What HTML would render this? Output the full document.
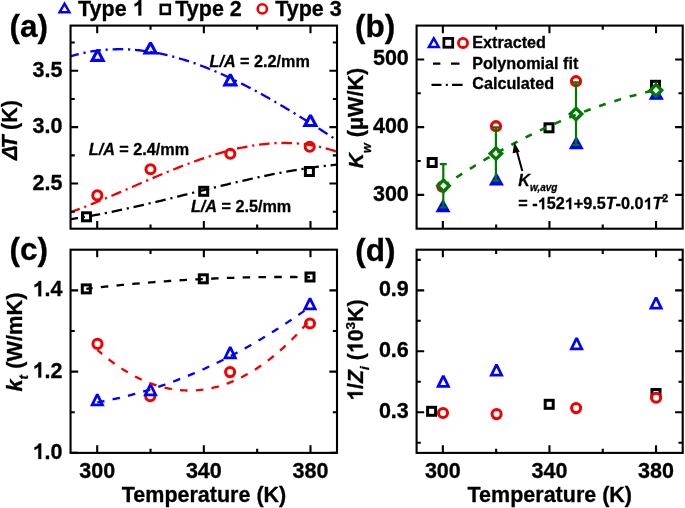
<!DOCTYPE html>
<html><head><meta charset="utf-8"><style>
html,body{margin:0;padding:0;background:#fff;overflow:hidden;}
svg{display:block;filter:blur(0.3px);}
text{stroke:#000;stroke-width:0.3px;stroke-linejoin:round;}
.o1{fill:transparent;stroke:none;}
</style></head><body>
<svg width="685" height="508" viewBox="0 0 685 508" font-family='"Liberation Sans", sans-serif'>
<defs><clipPath id="ca"><rect x="70.55" y="25.6" width="266.45" height="203.1"/></clipPath></defs>
<rect width="685" height="508" fill="#fff"/>
<path d="M97.60,50.10 L103.10,60.35 L92.10,60.35 Z" fill="#fff" stroke="#0000ff" stroke-width="3.1" stroke-linejoin="miter" stroke-miterlimit="2.05"/>
<path d="M150.50,42.80 L156.00,53.05 L145.00,53.05 Z" fill="#fff" stroke="#0000ff" stroke-width="3.1" stroke-linejoin="miter" stroke-miterlimit="2.05"/>
<path d="M230.30,74.60 L235.80,84.85 L224.80,84.85 Z" fill="#fff" stroke="#0000ff" stroke-width="3.1" stroke-linejoin="miter" stroke-miterlimit="2.05"/>
<path d="M310.40,115.30 L315.90,125.55 L304.90,125.55 Z" fill="#fff" stroke="#0000ff" stroke-width="3.1" stroke-linejoin="miter" stroke-miterlimit="2.05"/>
<circle cx="97.30" cy="195.40" r="4.55" fill="#fff" stroke="#f00000" stroke-width="3"/>
<circle cx="150.50" cy="169.20" r="4.55" fill="#fff" stroke="#f00000" stroke-width="3"/>
<circle cx="230.30" cy="153.70" r="4.55" fill="#fff" stroke="#f00000" stroke-width="3"/>
<circle cx="309.70" cy="146.70" r="4.55" fill="#fff" stroke="#f00000" stroke-width="3"/>
<rect x="82.50" y="212.80" width="8" height="8" fill="#fff" stroke="#000" stroke-width="3"/>
<rect x="199.70" y="187.30" width="8" height="8" fill="#fff" stroke="#000" stroke-width="3"/>
<rect x="305.40" y="167.50" width="8" height="8" fill="#fff" stroke="#000" stroke-width="3"/>
<path d="M68.55,56.88 L70.82,56.19 L73.10,55.53 L75.37,54.90 L77.64,54.31 L79.91,53.76 L82.19,53.23 L84.46,52.75 L86.73,52.29 L89.00,51.87 L91.28,51.47 L93.55,51.11 L95.82,50.79 L98.09,50.49 L100.37,50.23 L102.64,49.99 L104.91,49.79 L107.19,49.62 L109.46,49.48 L111.73,49.37 L114.00,49.29 L116.28,49.23 L118.55,49.21 L120.82,49.22 L123.09,49.25 L125.37,49.31 L127.64,49.40 L129.91,49.52 L132.19,49.67 L134.46,49.84 L136.73,50.04 L139.00,50.26 L141.28,50.52 L143.55,50.79 L145.82,51.10 L148.09,51.43 L150.37,51.78 L152.64,52.16 L154.91,52.57 L157.18,53.00 L159.46,53.45 L161.73,53.93 L164.00,54.43 L166.28,54.95 L168.55,55.50 L170.82,56.07 L173.09,56.66 L175.37,57.27 L177.64,57.91 L179.91,58.57 L182.18,59.24 L184.46,59.94 L186.73,60.66 L189.00,61.41 L191.28,62.17 L193.55,62.95 L195.82,63.75 L198.09,64.57 L200.37,65.41 L202.64,66.26 L204.91,67.14 L207.18,68.04 L209.46,68.95 L211.73,69.88 L214.00,70.82 L216.27,71.79 L218.55,72.77 L220.82,73.77 L223.09,74.78 L225.37,75.81 L227.64,76.86 L229.91,77.92 L232.18,79.00 L234.46,80.09 L236.73,81.19 L239.00,82.31 L241.27,83.45 L243.55,84.60 L245.82,85.76 L248.09,86.93 L250.37,88.12 L252.64,89.32 L254.91,90.53 L257.18,91.76 L259.46,92.99 L261.73,94.24 L264.00,95.50 L266.27,96.77 L268.55,98.05 L270.82,99.34 L273.09,100.65 L275.36,101.96 L277.64,103.28 L279.91,104.61 L282.18,105.95 L284.46,107.29 L286.73,108.65 L289.00,110.02 L291.27,111.39 L293.55,112.77 L295.82,114.15 L298.09,115.55 L300.36,116.95 L302.64,118.36 L304.91,119.77 L307.18,121.19 L309.46,122.62 L311.73,124.05 L314.00,125.48 L316.27,126.92 L318.55,128.37 L320.82,129.82 L323.09,131.27 L325.36,132.73 L327.64,134.19 L329.91,135.65 L332.18,137.12 L334.45,138.59 L336.73,140.06 L339.00,141.53" fill="none" stroke="#0000ff" stroke-width="2.3" stroke-dasharray="10.6 4.8 2.2 4.8" stroke-dashoffset="22.38" clip-path="url(#ca)"/>
<path d="M68.55,212.93 L70.82,212.11 L73.10,211.28 L75.37,210.44 L77.64,209.59 L79.91,208.72 L82.19,207.85 L84.46,206.97 L86.73,206.07 L89.00,205.17 L91.28,204.26 L93.55,203.34 L95.82,202.42 L98.09,201.49 L100.37,200.55 L102.64,199.60 L104.91,198.65 L107.19,197.70 L109.46,196.74 L111.73,195.77 L114.00,194.80 L116.28,193.83 L118.55,192.85 L120.82,191.87 L123.09,190.89 L125.37,189.91 L127.64,188.93 L129.91,187.94 L132.19,186.96 L134.46,185.97 L136.73,184.99 L139.00,184.00 L141.28,183.02 L143.55,182.04 L145.82,181.06 L148.09,180.08 L150.37,179.11 L152.64,178.14 L154.91,177.17 L157.18,176.21 L159.46,175.26 L161.73,174.30 L164.00,173.36 L166.28,172.42 L168.55,171.49 L170.82,170.56 L173.09,169.64 L175.37,168.73 L177.64,167.83 L179.91,166.94 L182.18,166.05 L184.46,165.18 L186.73,164.31 L189.00,163.46 L191.28,162.62 L193.55,161.79 L195.82,160.97 L198.09,160.16 L200.37,159.36 L202.64,158.58 L204.91,157.82 L207.18,157.06 L209.46,156.32 L211.73,155.60 L214.00,154.89 L216.27,154.20 L218.55,153.52 L220.82,152.86 L223.09,152.22 L225.37,151.59 L227.64,150.99 L229.91,150.40 L232.18,149.83 L234.46,149.28 L236.73,148.75 L239.00,148.24 L241.27,147.75 L243.55,147.28 L245.82,146.83 L248.09,146.41 L250.37,146.01 L252.64,145.63 L254.91,145.27 L257.18,144.94 L259.46,144.63 L261.73,144.35 L264.00,144.09 L266.27,143.86 L268.55,143.65 L270.82,143.47 L273.09,143.32 L275.36,143.19 L277.64,143.09 L279.91,143.02 L282.18,142.98 L284.46,142.97 L286.73,142.99 L289.00,143.03 L291.27,143.11 L293.55,143.22 L295.82,143.36 L298.09,143.53 L300.36,143.73 L302.64,143.97 L304.91,144.24 L307.18,144.54 L309.46,144.87 L311.73,145.24 L314.00,145.65 L316.27,146.09 L318.55,146.57 L320.82,147.08 L323.09,147.63 L325.36,148.21 L327.64,148.84 L329.91,149.50 L332.18,150.20 L334.45,150.94 L336.73,151.71 L339.00,152.53" fill="none" stroke="#f00000" stroke-width="2.3" stroke-dasharray="10.6 4.8 2.2 4.8" stroke-dashoffset="21.07" clip-path="url(#ca)"/>
<path d="M68.55,219.46 L70.82,219.14 L73.10,218.80 L75.37,218.45 L77.64,218.10 L79.91,217.74 L82.19,217.37 L84.46,216.99 L86.73,216.60 L89.00,216.21 L91.28,215.81 L93.55,215.40 L95.82,214.98 L98.09,214.55 L100.37,214.12 L102.64,213.69 L104.91,213.24 L107.19,212.79 L109.46,212.34 L111.73,211.87 L114.00,211.40 L116.28,210.93 L118.55,210.45 L120.82,209.96 L123.09,209.47 L125.37,208.98 L127.64,208.48 L129.91,207.97 L132.19,207.46 L134.46,206.95 L136.73,206.43 L139.00,205.91 L141.28,205.38 L143.55,204.85 L145.82,204.32 L148.09,203.78 L150.37,203.24 L152.64,202.70 L154.91,202.16 L157.18,201.61 L159.46,201.06 L161.73,200.51 L164.00,199.95 L166.28,199.39 L168.55,198.84 L170.82,198.28 L173.09,197.71 L175.37,197.15 L177.64,196.59 L179.91,196.02 L182.18,195.46 L184.46,194.89 L186.73,194.32 L189.00,193.76 L191.28,193.19 L193.55,192.62 L195.82,192.06 L198.09,191.49 L200.37,190.93 L202.64,190.36 L204.91,189.80 L207.18,189.24 L209.46,188.68 L211.73,188.12 L214.00,187.56 L216.27,187.00 L218.55,186.45 L220.82,185.90 L223.09,185.35 L225.37,184.80 L227.64,184.26 L229.91,183.72 L232.18,183.18 L234.46,182.64 L236.73,182.11 L239.00,181.58 L241.27,181.06 L243.55,180.54 L245.82,180.02 L248.09,179.51 L250.37,179.00 L252.64,178.50 L254.91,178.00 L257.18,177.51 L259.46,177.02 L261.73,176.54 L264.00,176.06 L266.27,175.59 L268.55,175.12 L270.82,174.66 L273.09,174.21 L275.36,173.76 L277.64,173.32 L279.91,172.88 L282.18,172.46 L284.46,172.04 L286.73,171.62 L289.00,171.22 L291.27,170.82 L293.55,170.43 L295.82,170.04 L298.09,169.67 L300.36,169.30 L302.64,168.94 L304.91,168.59 L307.18,168.25 L309.46,167.92 L311.73,167.59 L314.00,167.28 L316.27,166.97 L318.55,166.68 L320.82,166.39 L323.09,166.12 L325.36,165.85 L327.64,165.60 L329.91,165.35 L332.18,165.12 L334.45,164.90 L336.73,164.68 L339.00,164.48" fill="none" stroke="#000" stroke-width="2.3" stroke-dasharray="10.6 4.8 2.2 4.8" stroke-dashoffset="1.02" clip-path="url(#ca)"/>
<path d="M97.21,228.7 V221.1 M97.21,25.6 V33.2 M203.85,228.7 V221.1 M203.85,25.6 V33.2 M310.49,228.7 V221.1 M310.49,25.6 V33.2 M150.53,228.7 V224.5 M150.53,25.6 V29.8 M257.17,228.7 V224.5 M257.17,25.6 V29.8 M70.55,183.57 H78.14999999999999 M337.0,183.57 H329.4 M70.55,127.15 H78.14999999999999 M337.0,127.15 H329.4 M70.55,70.73 H78.14999999999999 M337.0,70.73 H329.4 M70.55,211.78 H74.75 M337.0,211.78 H332.8 M70.55,155.36 H74.75 M337.0,155.36 H332.8 M70.55,98.94 H74.75 M337.0,98.94 H332.8 M70.55,42.53 H74.75 M337.0,42.53 H332.8 " stroke="#000" stroke-width="2.1" fill="none"/>
<rect x="70.55" y="25.6" width="266.45" height="203.1" fill="none" stroke="#000" stroke-width="2.1"/>
<text x="62.4" y="76.73333333333335" font-size="21.5" text-anchor="end" font-weight="bold" font-style="normal" fill="#000" >3.5</text>
<text x="62.4" y="133.15" font-size="21.5" text-anchor="end" font-weight="bold" font-style="normal" fill="#000" >3.0</text>
<text x="62.4" y="189.56666666666666" font-size="21.5" text-anchor="end" font-weight="bold" font-style="normal" fill="#000" >2.5</text>
<text x="9.5" y="36.5" font-size="31.5" text-anchor="start" font-weight="bold" font-style="normal" fill="#000" >(a)</text>
<text transform="translate(17.4,160) rotate(-90)" font-size="21.5" font-weight="bold"><tspan font-style="italic">Δ</tspan><tspan font-style="italic" dx="-3">T</tspan><tspan dx="-0.5"> (K)</tspan></text>
<text x="209.5" y="67.3" font-size="16.2" font-weight="bold"><tspan font-style="italic">L/A</tspan> = 2.2/mm</text>
<text x="88.8" y="154.7" font-size="16.2" font-weight="bold"><tspan font-style="italic">L/A</tspan> = 2.4/mm</text>
<text x="190.9" y="212.2" font-size="16.2" font-weight="bold"><tspan font-style="italic">L/A</tspan> = 2.5/mm</text>
<path d="M64.50,3.70 L69.40,12.20 L59.60,12.20 Z" fill="#fff" stroke="#0000ff" stroke-width="2.5" stroke-linejoin="miter" stroke-miterlimit="2.05"/>
<text x="78" y="15.5" font-size="21.5" text-anchor="start" font-weight="bold" font-style="normal" fill="#000" >Type <tspan class="o1">1</tspan></text>
<rect x="160.80" y="4.90" width="9" height="9" fill="#fff" stroke="#000" stroke-width="2.6"/>
<text x="175.3" y="15.5" font-size="21.5" text-anchor="start" font-weight="bold" font-style="normal" fill="#000" >Type 2</text>
<circle cx="262.30" cy="8.90" r="4.6" fill="#fff" stroke="#f00000" stroke-width="2.6"/>
<text x="275.2" y="15.5" font-size="21.5" text-anchor="start" font-weight="bold" font-style="normal" fill="#000" >Type 3</text>
<path d="M442.85,228.7 V221.1 M442.85,25.6 V33.2 M549.45,228.7 V221.1 M549.45,25.6 V33.2 M656.05,228.7 V221.1 M656.05,25.6 V33.2 M496.15,228.7 V224.5 M496.15,25.6 V29.8 M602.75,228.7 V224.5 M602.75,25.6 V29.8 M416.6,194.85 H424.20000000000005 M682.7,194.85 H675.1 M416.6,127.15 H424.20000000000005 M682.7,127.15 H675.1 M416.6,59.45 H424.20000000000005 M682.7,59.45 H675.1 M416.6,161.00 H420.8 M682.7,161.00 H678.5 M416.6,93.30 H420.8 M682.7,93.30 H678.5 " stroke="#000" stroke-width="2.1" fill="none"/>
<rect x="416.6" y="25.6" width="266.1" height="203.1" fill="none" stroke="#000" stroke-width="2.1"/>
<text x="408.8" y="65.44999999999999" font-size="21.5" text-anchor="end" font-weight="bold" font-style="normal" fill="#000" >500</text>
<text x="408.8" y="133.14999999999998" font-size="21.5" text-anchor="end" font-weight="bold" font-style="normal" fill="#000" >400</text>
<text x="408.8" y="200.85" font-size="21.5" text-anchor="end" font-weight="bold" font-style="normal" fill="#000" >300</text>
<text x="355" y="36.6" font-size="31.5" text-anchor="start" font-weight="bold" font-style="normal" fill="#000" >(b)</text>
<text transform="translate(363.2,168.2) rotate(-90)" font-size="21" font-weight="bold"><tspan font-style="italic">K</tspan><tspan font-style="italic" font-size="12.5" dy="8">w</tspan><tspan dy="-8" font-size="21.6"> (μW/K)</tspan></text>
<path d="M433.80,38.30 L438.70,47.00 L428.90,47.00 Z" fill="#fff" stroke="#0000ff" stroke-width="2.5" stroke-linejoin="miter" stroke-miterlimit="2.05"/>
<rect x="443.90" y="38.40" width="8.8" height="8.8" fill="#fff" stroke="#000" stroke-width="2.8"/>
<circle cx="463.00" cy="42.90" r="4.6" fill="#fff" stroke="#f00000" stroke-width="2.8"/>
<text x="472.2" y="48.3" font-size="16.2" text-anchor="start" font-weight="bold" font-style="normal" fill="#000" >Extracted</text>
<path d="M433,63.7 H440.4 M451,63.7 H459.5" stroke="#000" stroke-width="2.2"/>
<text x="472.2" y="69" font-size="16.2" text-anchor="start" font-weight="bold" font-style="normal" fill="#000" >Polynomial fit</text>
<path d="M431.5,84.9 H441.5 M445.8,84.9 H447.8 M452,84.9 H462.6" stroke="#000" stroke-width="2.2"/>
<text x="472.2" y="89.2" font-size="16.2" text-anchor="start" font-weight="bold" font-style="normal" fill="#000" >Calculated</text>
<rect x="428.20" y="158.50" width="8" height="8" fill="#fff" stroke="#000" stroke-width="3"/>
<rect x="545.00" y="123.80" width="8" height="8" fill="#fff" stroke="#000" stroke-width="3"/>
<rect x="651.50" y="81.30" width="8" height="8" fill="#fff" stroke="#000" stroke-width="3"/>
<circle cx="442.40" cy="186.60" r="4.55" fill="#fff" stroke="#f00000" stroke-width="3.1"/>
<circle cx="496.00" cy="126.20" r="4.55" fill="#fff" stroke="#f00000" stroke-width="3.1"/>
<circle cx="576.00" cy="81.20" r="4.55" fill="#fff" stroke="#f00000" stroke-width="3.1"/>
<path d="M443.00,200.00 L449.50,211.60 L436.50,211.60 Z" fill="#0000ff" stroke="#0000ff" stroke-width="1.2" stroke-linejoin="miter" stroke-miterlimit="2.05"/>
<path d="M496.40,173.40 L502.90,185.00 L489.90,185.00 Z" fill="#0000ff" stroke="#0000ff" stroke-width="1.2" stroke-linejoin="miter" stroke-miterlimit="2.05"/>
<path d="M576.30,137.10 L582.80,148.70 L569.80,148.70 Z" fill="#0000ff" stroke="#0000ff" stroke-width="1.2" stroke-linejoin="miter" stroke-miterlimit="2.05"/>
<path d="M656.30,87.60 L662.80,99.20 L649.80,99.20 Z" fill="#0000ff" stroke="#0000ff" stroke-width="1.2" stroke-linejoin="miter" stroke-miterlimit="2.05"/>
<path d="M443.3,164.2 V207.5 M439.8,164.2 H446.8 M439.8,207.5 H446.8" stroke="#007a00" stroke-width="2.2"/>
<path d="M495.9,127.4 V180.6 M492.4,127.4 H499.4 M492.4,180.6 H499.4" stroke="#007a00" stroke-width="2.2"/>
<path d="M576,82.4 V145 M572.5,82.4 H579.5 M572.5,145 H579.5" stroke="#007a00" stroke-width="2.2"/>
<path d="M443.50,180.10 L449.20,185.80 L443.50,191.50 L437.80,185.80 Z" fill="#fff" stroke="#007a00" stroke-width="3.4"/>
<path d="M495.90,147.80 L501.60,153.50 L495.90,159.20 L490.20,153.50 Z" fill="#fff" stroke="#007a00" stroke-width="3.4"/>
<path d="M576.00,108.30 L581.70,114.00 L576.00,119.70 L570.30,114.00 Z" fill="#fff" stroke="#007a00" stroke-width="3.4"/>
<path d="M656.00,84.60 L661.70,90.30 L656.00,96.00 L650.30,90.30 Z" fill="#fff" stroke="#007a00" stroke-width="3.4"/>
<path d="M447.00,183.67 L448.72,182.52 L450.45,181.37 L452.17,180.23 L453.89,179.09 L455.61,177.96 L457.34,176.84 L459.06,175.72 L460.78,174.61 L462.50,173.51 L464.23,172.41 L465.95,171.32 L467.67,170.24 L469.39,169.16 L471.12,168.08 L472.84,167.02 L474.56,165.96 L476.29,164.91 L478.01,163.86 L479.73,162.82 L481.45,161.79 L483.18,160.76 L484.90,159.74 L486.62,158.72 L488.34,157.71 L490.07,156.71 L491.79,155.72 L493.51,154.73 L495.24,153.74 L496.96,152.77 L498.68,151.80 L500.40,150.83 L502.13,149.87 L503.85,148.92 L505.57,147.98 L507.29,147.04 L509.02,146.11 L510.74,145.18 L512.46,144.26 L514.18,143.35 L515.91,142.44 L517.63,141.54 L519.35,140.64 L521.08,139.76 L522.80,138.87 L524.52,138.00 L526.24,137.13 L527.97,136.27 L529.69,135.41 L531.41,134.56 L533.13,133.72 L534.86,132.88 L536.58,132.05 L538.30,131.22 L540.03,130.40 L541.75,129.59 L543.47,128.79 L545.19,127.99 L546.92,127.19 L548.64,126.41 L550.36,125.63 L552.08,124.85 L553.81,124.09 L555.53,123.33 L557.25,122.57 L558.97,121.82 L560.70,121.08 L562.42,120.34 L564.14,119.61 L565.87,118.89 L567.59,118.17 L569.31,117.46 L571.03,116.76 L572.76,116.06 L574.48,115.37 L576.20,114.68 L577.92,114.01 L579.65,113.33 L581.37,112.67 L583.09,112.01 L584.82,111.35 L586.54,110.71 L588.26,110.07 L589.98,109.43 L591.71,108.80 L593.43,108.18 L595.15,107.57 L596.87,106.96 L598.60,106.35 L600.32,105.76 L602.04,105.17 L603.76,104.58 L605.49,104.01 L607.21,103.44 L608.93,102.87 L610.66,102.31 L612.38,101.76 L614.10,101.21 L615.82,100.68 L617.55,100.14 L619.27,99.62 L620.99,99.10 L622.71,98.58 L624.44,98.07 L626.16,97.57 L627.88,97.08 L629.61,96.59 L631.33,96.11 L633.05,95.63 L634.77,95.16 L636.50,94.70 L638.22,94.24 L639.94,93.79 L641.66,93.35 L643.39,92.91 L645.11,92.48 L646.83,92.05 L648.55,91.63 L650.28,91.22 L652.00,90.81" fill="none" stroke="#007a00" stroke-width="2.6" stroke-dasharray="7 9" stroke-dashoffset="4.77"/>
<path d="M522.3,171 L516.3,149" stroke="#000" stroke-width="2"/>
<path d="M514.3,142.3 L519.8,151.8 L512.6,153.2 Z" fill="#000"/>
<text x="518.3" y="186.1" font-size="16.2" font-weight="bold" font-style="italic">K<tspan font-size="10" dy="5.2">w,avg</tspan></text>
<text x="518.3" y="209.3" font-size="16.2" font-weight="bold">= -<tspan class="o1">1</tspan>52<tspan class="o1">1</tspan>+9.5<tspan font-style="italic">T</tspan>-0.0<tspan class="o1">1</tspan><tspan font-style="italic">T</tspan><tspan font-size="10.5" dy="-7">2</tspan></text>
<rect x="82.30" y="284.90" width="8" height="8" fill="#fff" stroke="#000" stroke-width="3"/>
<rect x="199.30" y="274.80" width="8" height="8" fill="#fff" stroke="#000" stroke-width="3"/>
<rect x="306.00" y="273.00" width="8" height="8" fill="#fff" stroke="#000" stroke-width="3"/>
<circle cx="97.50" cy="343.90" r="4.55" fill="#fff" stroke="#f00000" stroke-width="3"/>
<circle cx="150.20" cy="396.20" r="4.55" fill="#fff" stroke="#f00000" stroke-width="3"/>
<circle cx="230.10" cy="372.10" r="4.55" fill="#fff" stroke="#f00000" stroke-width="3"/>
<circle cx="310.00" cy="323.50" r="4.55" fill="#fff" stroke="#f00000" stroke-width="3"/>
<path d="M97.30,394.40 L102.45,404.95 L92.15,404.95 Z" fill="#fff" stroke="#0000ff" stroke-width="2.75" stroke-linejoin="miter" stroke-miterlimit="2.05"/>
<path d="M150.50,384.30 L155.65,394.85 L145.35,394.85 Z" fill="#fff" stroke="#0000ff" stroke-width="2.75" stroke-linejoin="miter" stroke-miterlimit="2.05"/>
<path d="M230.20,347.20 L235.35,357.75 L225.05,357.75 Z" fill="#fff" stroke="#0000ff" stroke-width="2.75" stroke-linejoin="miter" stroke-miterlimit="2.05"/>
<path d="M310.00,298.30 L315.15,308.85 L304.85,308.85 Z" fill="#fff" stroke="#0000ff" stroke-width="2.75" stroke-linejoin="miter" stroke-miterlimit="2.05"/>
<path d="M86.30,288.85 L88.18,288.63 L90.06,288.40 L91.94,288.18 L93.82,287.97 L95.70,287.75 L97.58,287.54 L99.46,287.33 L101.34,287.12 L103.22,286.91 L105.10,286.71 L106.98,286.50 L108.86,286.30 L110.74,286.10 L112.62,285.91 L114.50,285.71 L116.38,285.52 L118.26,285.33 L120.14,285.14 L122.02,284.96 L123.90,284.77 L125.78,284.59 L127.66,284.41 L129.54,284.24 L131.42,284.06 L133.30,283.89 L135.18,283.72 L137.06,283.55 L138.94,283.38 L140.82,283.22 L142.69,283.06 L144.57,282.90 L146.45,282.74 L148.33,282.58 L150.21,282.43 L152.09,282.28 L153.97,282.13 L155.85,281.98 L157.73,281.83 L159.61,281.69 L161.49,281.55 L163.37,281.41 L165.25,281.28 L167.13,281.14 L169.01,281.01 L170.89,280.88 L172.77,280.75 L174.65,280.63 L176.53,280.50 L178.41,280.38 L180.29,280.26 L182.17,280.14 L184.05,280.03 L185.93,279.91 L187.81,279.80 L189.69,279.70 L191.57,279.59 L193.45,279.48 L195.33,279.38 L197.21,279.28 L199.09,279.18 L200.97,279.09 L202.85,278.99 L204.73,278.90 L206.61,278.81 L208.49,278.73 L210.37,278.64 L212.25,278.56 L214.13,278.48 L216.01,278.40 L217.89,278.32 L219.77,278.25 L221.65,278.17 L223.53,278.10 L225.41,278.04 L227.29,277.97 L229.17,277.91 L231.05,277.84 L232.93,277.78 L234.81,277.73 L236.69,277.67 L238.57,277.62 L240.45,277.57 L242.33,277.52 L244.21,277.47 L246.09,277.43 L247.97,277.39 L249.85,277.34 L251.73,277.31 L253.61,277.27 L255.48,277.24 L257.36,277.20 L259.24,277.18 L261.12,277.15 L263.00,277.12 L264.88,277.10 L266.76,277.08 L268.64,277.06 L270.52,277.04 L272.40,277.03 L274.28,277.02 L276.16,277.01 L278.04,277.00 L279.92,276.99 L281.80,276.99 L283.68,276.98 L285.56,276.99 L287.44,276.99 L289.32,276.99 L291.20,277.00 L293.08,277.01 L294.96,277.02 L296.84,277.03 L298.72,277.05 L300.60,277.06 L302.48,277.08 L304.36,277.11 L306.24,277.13 L308.12,277.16 L310.00,277.18" fill="none" stroke="#000" stroke-width="2.3" stroke-dasharray="7.5 8.3" stroke-dashoffset="1.18"/>
<path d="M97.30,402.42 L99.09,402.10 L100.87,401.77 L102.66,401.44 L104.45,401.09 L106.24,400.74 L108.02,400.38 L109.81,400.01 L111.60,399.63 L113.39,399.24 L115.17,398.85 L116.96,398.44 L118.75,398.03 L120.54,397.61 L122.32,397.19 L124.11,396.75 L125.90,396.31 L127.69,395.85 L129.47,395.39 L131.26,394.93 L133.05,394.45 L134.84,393.96 L136.62,393.47 L138.41,392.97 L140.20,392.46 L141.98,391.94 L143.77,391.42 L145.56,390.88 L147.35,390.34 L149.13,389.79 L150.92,389.23 L152.71,388.67 L154.50,388.09 L156.28,387.51 L158.07,386.92 L159.86,386.32 L161.65,385.71 L163.43,385.10 L165.22,384.47 L167.01,383.84 L168.80,383.20 L170.58,382.55 L172.37,381.89 L174.16,381.23 L175.95,380.56 L177.73,379.88 L179.52,379.19 L181.31,378.49 L183.09,377.78 L184.88,377.07 L186.67,376.35 L188.46,375.62 L190.24,374.88 L192.03,374.13 L193.82,373.38 L195.61,372.61 L197.39,371.84 L199.18,371.06 L200.97,370.28 L202.76,369.48 L204.54,368.68 L206.33,367.86 L208.12,367.04 L209.91,366.21 L211.69,365.38 L213.48,364.53 L215.27,363.68 L217.06,362.82 L218.84,361.95 L220.63,361.07 L222.42,360.19 L224.21,359.29 L225.99,358.39 L227.78,357.48 L229.57,356.56 L231.35,355.63 L233.14,354.70 L234.93,353.76 L236.72,352.80 L238.50,351.85 L240.29,350.88 L242.08,349.90 L243.87,348.92 L245.65,347.93 L247.44,346.93 L249.23,345.92 L251.02,344.90 L252.80,343.88 L254.59,342.84 L256.38,341.80 L258.17,340.75 L259.95,339.69 L261.74,338.63 L263.53,337.55 L265.32,336.47 L267.10,335.38 L268.89,334.28 L270.68,333.18 L272.46,332.06 L274.25,330.94 L276.04,329.81 L277.83,328.67 L279.61,327.52 L281.40,326.36 L283.19,325.20 L284.98,324.03 L286.76,322.85 L288.55,321.66 L290.34,320.46 L292.13,319.26 L293.91,318.04 L295.70,316.82 L297.49,315.59 L299.28,314.35 L301.06,313.11 L302.85,311.85 L304.64,310.59 L306.43,309.32 L308.21,308.04 L310.00,306.76" fill="none" stroke="#0000ff" stroke-width="2.3" stroke-dasharray="7.5 8.3" stroke-dashoffset="0.22"/>
<path d="M97.50,350.02 L99.29,351.58 L101.07,353.11 L102.86,354.61 L104.64,356.08 L106.43,357.52 L108.21,358.93 L110.00,360.31 L111.79,361.66 L113.57,362.98 L115.36,364.26 L117.14,365.52 L118.93,366.74 L120.71,367.94 L122.50,369.10 L124.29,370.23 L126.07,371.33 L127.86,372.41 L129.64,373.45 L131.43,374.46 L133.21,375.44 L135.00,376.38 L136.79,377.30 L138.57,378.19 L140.36,379.05 L142.14,379.87 L143.93,380.67 L145.71,381.43 L147.50,382.16 L149.29,382.87 L151.07,383.54 L152.86,384.18 L154.64,384.79 L156.43,385.37 L158.21,385.92 L160.00,386.44 L161.79,386.93 L163.57,387.38 L165.36,387.81 L167.14,388.20 L168.93,388.57 L170.71,388.90 L172.50,389.21 L174.29,389.48 L176.07,389.72 L177.86,389.93 L179.64,390.11 L181.43,390.26 L183.21,390.38 L185.00,390.47 L186.79,390.52 L188.57,390.55 L190.36,390.54 L192.14,390.51 L193.93,390.44 L195.71,390.34 L197.50,390.22 L199.29,390.06 L201.07,389.87 L202.86,389.65 L204.64,389.40 L206.43,389.11 L208.21,388.80 L210.00,388.46 L211.79,388.08 L213.57,387.68 L215.36,387.24 L217.14,386.77 L218.93,386.28 L220.71,385.75 L222.50,385.19 L224.29,384.60 L226.07,383.98 L227.86,383.32 L229.64,382.64 L231.43,381.93 L233.21,381.18 L235.00,380.41 L236.79,379.60 L238.57,378.76 L240.36,377.90 L242.14,377.00 L243.93,376.07 L245.71,375.11 L247.50,374.11 L249.29,373.09 L251.07,372.04 L252.86,370.95 L254.64,369.84 L256.43,368.69 L258.21,367.52 L260.00,366.31 L261.79,365.07 L263.57,363.80 L265.36,362.50 L267.14,361.17 L268.93,359.81 L270.71,358.41 L272.50,356.99 L274.29,355.53 L276.07,354.05 L277.86,352.53 L279.64,350.98 L281.43,349.40 L283.21,347.79 L285.00,346.15 L286.79,344.48 L288.57,342.78 L290.36,341.04 L292.14,339.28 L293.93,337.48 L295.71,335.66 L297.50,333.80 L299.29,331.91 L301.07,329.99 L302.86,328.04 L304.64,326.06 L306.43,324.05 L308.21,322.00 L310.00,319.93" fill="none" stroke="#f00000" stroke-width="2.3" stroke-dasharray="7.5 8.3" stroke-dashoffset="1.40"/>
<path d="M97.21,452.9 V445.29999999999995 M97.21,249.7 V257.3 M203.85,452.9 V445.29999999999995 M203.85,249.7 V257.3 M310.49,452.9 V445.29999999999995 M310.49,249.7 V257.3 M150.53,452.9 V448.7 M150.53,249.7 V253.89999999999998 M257.17,452.9 V448.7 M257.17,249.7 V253.89999999999998 M70.55,452.90 H78.14999999999999 M337.0,452.90 H329.4 M70.55,371.62 H78.14999999999999 M337.0,371.62 H329.4 M70.55,290.34 H78.14999999999999 M337.0,290.34 H329.4 M70.55,412.26 H74.75 M337.0,412.26 H332.8 M70.55,330.98 H74.75 M337.0,330.98 H332.8 " stroke="#000" stroke-width="2.1" fill="none"/>
<rect x="70.55" y="249.7" width="266.45" height="203.2" fill="none" stroke="#000" stroke-width="2.1"/>
<text x="62.4" y="296.34000000000003" font-size="21.5" text-anchor="end" font-weight="bold" font-style="normal" fill="#000" ><tspan class="o1">1</tspan>.4</text>
<text x="62.4" y="377.62" font-size="21.5" text-anchor="end" font-weight="bold" font-style="normal" fill="#000" ><tspan class="o1">1</tspan>.2</text>
<text x="62.4" y="458.9" font-size="21.5" text-anchor="end" font-weight="bold" font-style="normal" fill="#000" ><tspan class="o1">1</tspan>.0</text>
<text x="9.5" y="260.4" font-size="31.5" text-anchor="start" font-weight="bold" font-style="normal" fill="#000" >(c)</text>
<text transform="translate(22,391.5) rotate(-90)" font-size="21.8" font-weight="bold"><tspan font-style="italic">k</tspan><tspan font-style="italic" font-size="13.5" dy="6">t</tspan><tspan dy="-6"> (W/mK)</tspan></text>
<text x="97.3" y="477.7" font-size="21.5" text-anchor="middle" font-weight="bold" font-style="normal" fill="#000" >300</text>
<text x="203.84999999999997" y="477.7" font-size="21.5" text-anchor="middle" font-weight="bold" font-style="normal" fill="#000" >340</text>
<text x="310.49" y="477.7" font-size="21.5" text-anchor="middle" font-weight="bold" font-style="normal" fill="#000" >380</text>
<text x="204" y="502" font-size="21.5" text-anchor="middle" font-weight="bold" font-style="normal" fill="#000" >Temperature (K)</text>
<rect x="427.60" y="407.30" width="8" height="8" fill="#fff" stroke="#000" stroke-width="3"/>
<rect x="545.20" y="400.30" width="8" height="8" fill="#fff" stroke="#000" stroke-width="3"/>
<rect x="652.00" y="389.50" width="8" height="8" fill="#fff" stroke="#000" stroke-width="3"/>
<circle cx="443.00" cy="413.00" r="4.55" fill="#fff" stroke="#f00000" stroke-width="3"/>
<circle cx="496.60" cy="414.10" r="4.55" fill="#fff" stroke="#f00000" stroke-width="3"/>
<circle cx="576.10" cy="408.10" r="4.55" fill="#fff" stroke="#f00000" stroke-width="3"/>
<circle cx="656.10" cy="397.70" r="4.55" fill="#fff" stroke="#f00000" stroke-width="3"/>
<path d="M443.30,375.90 L448.45,386.45 L438.15,386.45 Z" fill="#fff" stroke="#0000ff" stroke-width="2.75" stroke-linejoin="miter" stroke-miterlimit="2.05"/>
<path d="M496.50,364.60 L501.65,375.15 L491.35,375.15 Z" fill="#fff" stroke="#0000ff" stroke-width="2.75" stroke-linejoin="miter" stroke-miterlimit="2.05"/>
<path d="M576.60,338.20 L581.75,348.75 L571.45,348.75 Z" fill="#fff" stroke="#0000ff" stroke-width="2.75" stroke-linejoin="miter" stroke-miterlimit="2.05"/>
<path d="M656.10,297.50 L661.25,308.05 L650.95,308.05 Z" fill="#fff" stroke="#0000ff" stroke-width="2.75" stroke-linejoin="miter" stroke-miterlimit="2.05"/>
<path d="M442.85,452.9 V445.29999999999995 M442.85,249.7 V257.3 M549.45,452.9 V445.29999999999995 M549.45,249.7 V257.3 M656.05,452.9 V445.29999999999995 M656.05,249.7 V257.3 M496.15,452.9 V448.7 M496.15,249.7 V253.89999999999998 M602.75,452.9 V448.7 M602.75,249.7 V253.89999999999998 M416.6,412.26 H424.20000000000005 M682.7,412.26 H675.1 M416.6,351.30 H424.20000000000005 M682.7,351.30 H675.1 M416.6,290.34 H424.20000000000005 M682.7,290.34 H675.1 M416.6,442.74 H420.8 M682.7,442.74 H678.5 M416.6,381.78 H420.8 M682.7,381.78 H678.5 M416.6,320.82 H420.8 M682.7,320.82 H678.5 M416.6,259.86 H420.8 M682.7,259.86 H678.5 " stroke="#000" stroke-width="2.1" fill="none"/>
<rect x="416.6" y="249.7" width="266.1" height="203.2" fill="none" stroke="#000" stroke-width="2.1"/>
<text x="408.8" y="296.34" font-size="21.5" text-anchor="end" font-weight="bold" font-style="normal" fill="#000" >0.9</text>
<text x="408.8" y="357.29999999999995" font-size="21.5" text-anchor="end" font-weight="bold" font-style="normal" fill="#000" >0.6</text>
<text x="408.8" y="418.26" font-size="21.5" text-anchor="end" font-weight="bold" font-style="normal" fill="#000" >0.3</text>
<text x="355.2" y="260.6" font-size="31.5" text-anchor="start" font-weight="bold" font-style="normal" fill="#000" >(d)</text>
<text transform="translate(362.7,400.8) rotate(-90)" font-size="21.3" font-weight="bold"><tspan class="o1">1</tspan>/<tspan font-style="italic">Z</tspan><tspan font-style="italic" font-size="13.5" dy="6">i</tspan><tspan dy="-6"> (<tspan class="o1">1</tspan>0</tspan><tspan font-size="13.5" dy="-8">3</tspan><tspan dy="8">K)</tspan></text>
<text x="442.84999999999997" y="477.7" font-size="21.5" text-anchor="middle" font-weight="bold" font-style="normal" fill="#000" >300</text>
<text x="549.45" y="477.7" font-size="21.5" text-anchor="middle" font-weight="bold" font-style="normal" fill="#000" >340</text>
<text x="656.05" y="477.7" font-size="21.5" text-anchor="middle" font-weight="bold" font-style="normal" fill="#000" >380</text>
<text x="549.8" y="502" font-size="21.5" text-anchor="middle" font-weight="bold" font-style="normal" fill="#000" >Temperature (K)</text>
<path transform=" translate(132.56,15.50) scale(0.02150)" d="M404,0 L404,-716 L292,-716 C276,-668 246,-628 198,-594 C160,-567 124,-552 95,-544 L95,-418 C160,-438 222,-472 272,-514 L272,0 Z" fill="#000" stroke="#000" stroke-width="14.0" stroke-linejoin="round"/>
<path transform=" translate(537.64,209.30) scale(0.01620)" d="M404,0 L404,-716 L292,-716 C276,-668 246,-628 198,-594 C160,-567 124,-552 95,-544 L95,-418 C160,-438 222,-472 272,-514 L272,0 Z" fill="#000" stroke="#000" stroke-width="18.5" stroke-linejoin="round"/>
<path transform=" translate(564.67,209.30) scale(0.01620)" d="M404,0 L404,-716 L292,-716 C276,-668 246,-628 198,-594 C160,-567 124,-552 95,-544 L95,-418 C160,-438 222,-472 272,-514 L272,0 Z" fill="#000" stroke="#000" stroke-width="18.5" stroke-linejoin="round"/>
<path transform=" translate(643.46,209.30) scale(0.01620)" d="M404,0 L404,-716 L292,-716 C276,-668 246,-628 198,-594 C160,-567 124,-552 95,-544 L95,-418 C160,-438 222,-472 272,-514 L272,0 Z" fill="#000" stroke="#000" stroke-width="18.5" stroke-linejoin="round"/>
<path transform=" translate(32.49,296.34) scale(0.02150)" d="M404,0 L404,-716 L292,-716 C276,-668 246,-628 198,-594 C160,-567 124,-552 95,-544 L95,-418 C160,-438 222,-472 272,-514 L272,0 Z" fill="#000" stroke="#000" stroke-width="14.0" stroke-linejoin="round"/>
<path transform=" translate(32.49,377.62) scale(0.02150)" d="M404,0 L404,-716 L292,-716 C276,-668 246,-628 198,-594 C160,-567 124,-552 95,-544 L95,-418 C160,-438 222,-472 272,-514 L272,0 Z" fill="#000" stroke="#000" stroke-width="14.0" stroke-linejoin="round"/>
<path transform=" translate(32.49,458.90) scale(0.02150)" d="M404,0 L404,-716 L292,-716 C276,-668 246,-628 198,-594 C160,-567 124,-552 95,-544 L95,-418 C160,-438 222,-472 272,-514 L272,0 Z" fill="#000" stroke="#000" stroke-width="14.0" stroke-linejoin="round"/>
<path transform="translate(362.7,400.8) rotate(-90) translate(0.00,0.00) scale(0.02130)" d="M404,0 L404,-716 L292,-716 C276,-668 246,-628 198,-594 C160,-567 124,-552 95,-544 L95,-418 C160,-438 222,-472 272,-514 L272,0 Z" fill="#000" stroke="#000" stroke-width="14.1" stroke-linejoin="round"/>
<path transform="translate(362.7,400.8) rotate(-90) translate(47.58,0.00) scale(0.02130)" d="M404,0 L404,-716 L292,-716 C276,-668 246,-628 198,-594 C160,-567 124,-552 95,-544 L95,-418 C160,-438 222,-472 272,-514 L272,0 Z" fill="#000" stroke="#000" stroke-width="14.1" stroke-linejoin="round"/>
</svg>
</body></html>
